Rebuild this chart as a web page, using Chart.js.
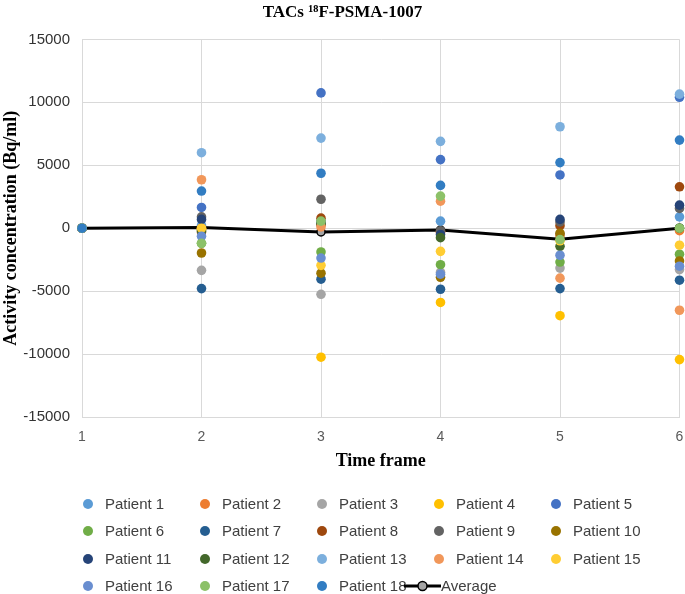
<!DOCTYPE html>
<html><head><meta charset="utf-8">
<script src="https://cdn.jsdelivr.net/npm/chart.js@4.4.1/dist/chart.umd.min.js"></script>
<style>
html,body{margin:0;padding:0;background:#fff;}
#wrap{position:relative;width:685px;height:594px;overflow:hidden;}
#chartBox{position:absolute;left:0;top:0;width:685px;height:480px;}
#legend{position:absolute;left:0;top:0;width:685px;height:594px;font-family:'Liberation Sans',Arial,sans-serif;font-size:15px;color:#404040;pointer-events:none;}
.item{position:absolute;height:20px;line-height:20px;white-space:nowrap;}
.dot{position:absolute;width:10px;height:10px;border-radius:50%;top:5px;}
.txt{position:absolute;top:0;}
</style></head><body>
<div id="wrap"><div id="chartBox"><canvas id="c"></canvas></div><div id="legend"></div></div>
<script>
const timeFrames = [1, 2, 3, 4, 5, 6];
const yTicks = [-15000, -10000, -5000, 0, 5000, 10000, 15000];
const patient1  = [0,   200,   400,   560,  -500,   900];
const patient2  = [0,     0,   300,  -300,  -600,  -200];
const patient3  = [0, -3350, -5250, -3500, -3170, -3290];
const patient4  = [0,  -100,-10250, -5900, -6950,-10440];
const patient5  = [0,  1650, 10750,  5450,  4230, 10400];
const patient6  = [0, -1200, -1890, -2900, -2690, -2070];
const patient7  = [0, -4800, -4050, -4850, -4800, -4130];
const patient8  = [0,  -300,   800,  -300,   200,  3290];
const patient9  = [0,   900,  2300,  -200,   500,  1570];
const patient10 = [0, -1970, -3570, -3900,  -400, -2600];
const patient11 = [0,   700,   500,  -500,   700,  1830];
const patient12 = [0,  -200,   300,  -750, -1440,     0];
const patient13 = [0,  6000,  7160,  6900,  8060, 10650];
const patient14 = [0,  3850,   100,  2150, -3970, -6520];
const patient15 = [0,     0, -2950, -1840, -1000, -1350];
const patient16 = [0,  -640, -2370, -3650, -2150, -3020];
const patient17 = [0, -1200,   560,  2550,  -900,     0];
const patient18 = [0,  2950,  4365,  3400,  5210,  7000];
const average   = [0,    50,  -300,  -150,  -870,     0];

const patients = [patient1,patient2,patient3,patient4,patient5,patient6,patient7,patient8,patient9,
  patient10,patient11,patient12,patient13,patient14,patient15,patient16,patient17,patient18];
const colors = ['#5B9BD5','#ED7D31','#A5A5A5','#FFC000','#4472C4','#70AD47','#255E91','#9E480E','#636363',
  '#997300','#264478','#43682B','#7CAFDD','#F1975A','#FFCD33','#698ED0','#8CC168','#327DC2'];

const datasets = patients.map((arr, i) => ({
  label: 'Patient ' + (i + 1),
  data: timeFrames.map((x, k) => ({x: x, y: arr[k]})),
  showLine: false,
  clip: false,
  pointRadius: 4.8,
  pointHoverRadius: 4.8,
  pointBorderWidth: 0,
  pointBackgroundColor: colors[i],
  borderColor: colors[i],
  backgroundColor: colors[i],
  order: 100 - i
}));
datasets.push({
  label: 'Average',
  data: timeFrames.map((x, k) => ({x: x, y: average[k]})),
  showLine: true,
  clip: false,
  borderColor: '#000000',
  borderWidth: 3,
  pointRadius: 4,
  pointBackgroundColor: '#A5A5A5',
  pointBorderColor: '#000000',
  pointBorderWidth: 1.5,
  tension: 0,
  order: 200
});

const serif = "'Liberation Serif','Times New Roman',serif";
const sans = "'Liberation Sans',Arial,sans-serif";

new Chart(document.getElementById('c'), {
  type: 'line',
  data: {datasets: datasets},
  options: {
    responsive: true,
    maintainAspectRatio: false,
    animation: false,
    events: [],
    layout: {padding: {left: 0, right: 0, top: 0, bottom: 0}},
    plugins: {
      legend: {display: false},
      tooltip: {enabled: false},
      title: {
        display: true,
        text: 'TACs \u00B9\u2078F-PSMA-1007',
        font: {family: serif, size: 17, weight: 'bold'},
        color: '#000',
        padding: {top: 2, bottom: 17}
      }
    },
    scales: {
      x: {
        type: 'linear',
        min: 1, max: 6,
        afterFit: s => { s.height = 63; },
        ticks: {stepSize: 1, padding: 0, color: '#595959', font: {family: sans, size: 14}},
        grid: {color: '#D9D9D9', drawTicks: true, tickLength: 12, tickColor: 'rgba(0,0,0,0)'},
        border: {color: '#D9D9D9'},
        title: {display: true, text: 'Time frame', color: '#000',
          font: {family: serif, size: 18, weight: 'bold'}, padding: {top: 0, bottom: 8}}
      },
      y: {
        min: -15000, max: 15000,
        afterFit: s => { s.width = 82; },
        afterBuildTicks: s => { s.ticks = yTicks.map(v => ({value: v})); },
        ticks: {padding: 12, color: '#333333', font: {family: sans, size: 15},
          callback: v => String(v)},
        grid: {color: '#D9D9D9', drawTicks: false},
        border: {color: '#D9D9D9'},
        title: {display: true, text: 'Activity concentration (Bq/ml)', color: '#000',
          font: {family: serif, size: 18, weight: 'bold'}, padding: {top: 1, bottom: 0}}
      }
    }
  }
});

// HTML legend built from the datasets
const legend = document.getElementById('legend');
const colX = [88, 205, 322, 439, 556];
const rowY = [504, 531, 559, 586];
datasets.forEach((d, i) => {
  const row = Math.floor(i / 5), col = i % 5;
  const el = document.createElement('div');
  el.className = 'item';
  el.style.top = (rowY[row] - 10) + 'px';
  if (d.label !== 'Average') {
    el.style.left = colX[col] + 'px';
    el.innerHTML = '<span class="dot" style="left:-5px;background:' + d.pointBackgroundColor + '"></span>' +
      '<span class="txt" style="left:17px">' + d.label + '</span>';
  } else {
    el.style.left = '404px';
    el.innerHTML = '<svg width="42" height="20" style="position:absolute;left:0;top:0">' +
      '<line x1="0" y1="10" x2="37" y2="10" stroke="#000" stroke-width="3"/>' +
      '<circle cx="18.5" cy="10" r="4.5" fill="#A5A5A5" stroke="#000" stroke-width="1.5"/></svg>' +
      '<span class="txt" style="left:37px">' + d.label + '</span>';
  }
  legend.appendChild(el);
});
</script>
</body></html>
